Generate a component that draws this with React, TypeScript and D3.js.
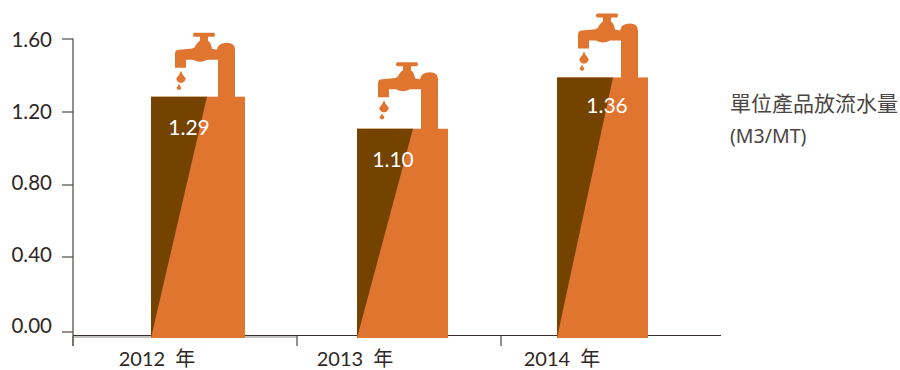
import React from "react";
import * as d3 from "d3";

const years = ["2012 年", "2013 年", "2014 年"];
const valueLabels = ["1.29", "1.10", "1.36"];
// bar heights as drawn in the picture, slightly different from the printed labels
const drawnValues = [1.285, 1.11, 1.39];
const barLefts = [151, 357, 557];
const barWidths = [94, 91, 91];
const faucetShift = [0, -2.5, 0];
const valueLabelX = [189, 393, 607];
const valueLabelY = [135, 167, 113];
const tickValues = [0, 0.4, 0.8, 1.2, 1.6];
const tickYs = [332, 257, 185, 112, 39];
const catTicks = [73, 297, 501];
const labelX = [157, 355, 562];
const seriesName = ["單位產品放流水量", "(M3/MT)"];

const ORANGE = "#e07530";
const BROWN = "#744300";
const INK = "#2f2725";
const FONT = "Lato, 'Noto Sans CJK TC', sans-serif";

const y = d3.scaleLinear().domain([0, 1.6]).range([332, 39]);
const tickY = d3.scaleLinear().domain(tickValues).range(tickYs);
const tickLabelY = d3.scaleLinear().domain([0, 1.6]).range([333, 47]);

const faucetPath = (() => {
  const p = d3.path();
  // coordinates relative to bar top-right corner
  p.moveTo(-27, 3);
  p.lineTo(-27, -37);
  p.lineTo(-38, -37);
  p.quadraticCurveTo(-45, -33, -52, -37);
  p.lineTo(-59, -37);
  p.lineTo(-59, -29);
  p.lineTo(-70, -29);
  p.lineTo(-70, -43);
  p.quadraticCurveTo(-70, -47, -66, -47);
  p.lineTo(-55, -48);
  p.quadraticCurveTo(-50, -48, -49, -52);
  p.quadraticCurveTo(-47, -55, -45, -56);
  p.lineTo(-45, -60);
  p.lineTo(-51, -60);
  p.quadraticCurveTo(-53, -62, -51, -64);
  p.lineTo(-31, -64);
  p.quadraticCurveTo(-29, -62, -31, -60);
  p.lineTo(-37, -60);
  p.lineTo(-37, -56);
  p.quadraticCurveTo(-34, -54, -33, -48);
  p.lineTo(-28, -47);
  p.quadraticCurveTo(-27, -54, -18, -54);
  p.quadraticCurveTo(-10, -54, -10, -47);
  p.lineTo(-10, 3);
  p.closePath();
  return p.toString();
})();

const dropPath = (cx: number, top: number, r: number) => {
  const p = d3.path();
  p.moveTo(cx, top);
  p.quadraticCurveTo(cx + r * 0.3, top + r * 0.9, cx + r, top + r * 1.6);
  p.arc(cx, top + r * 1.6, r, 0, Math.PI);
  p.quadraticCurveTo(cx - r * 0.3, top + r * 0.9, cx, top);
  p.closePath();
  return p.toString();
};

export default function App() {
  return (
    <svg width={900} height={370} style={{ position: "absolute", left: 0, top: 0, display: "block" }} fontFamily={FONT}>
      <line x1={73} x2={73} y1={38.5} y2={346} stroke="#6f6a66" strokeWidth={1.5} />
      <line x1={73} x2={721} y1={335.5} y2={335.5} stroke="#3a2f2c" strokeWidth={1.2} />
      <line x1={73} x2={297} y1={337} y2={337} stroke="#8a8582" strokeWidth={1} />
      {catTicks.map((x) => (
        <line key={x} x1={x} x2={x} y1={336} y2={346} stroke="#6f6a66" strokeWidth={1.5} />
      ))}
      {years.map((yr, i) => {
        const x0 = barLefts[i];
        const w = barWidths[i];
        const top = y(drawnValues[i]);
        const right = x0 + w;
        const bottom = 338;
        const s = top + faucetShift[i];
        return (
          <g key={yr}>
            <rect x={x0} y={top} width={w} height={bottom - top} fill={ORANGE} />
            <path d={`M${x0},${bottom}L${x0},${top}L${x0 + 56},${top}Z`} fill={BROWN} />
            <path d={faucetPath} transform={`translate(${right},${s})`} fill={ORANGE} />
            <path d={dropPath(right - 64, s - 26, 4.7)} fill={ORANGE} />
            <path d={dropPath(right - 66, s - 13, 2.4)} fill={ORANGE} />
            <text x={valueLabelX[i]} y={valueLabelY[i]} textAnchor="middle" fill="#fff" fontSize={21}>{valueLabels[i]}</text>
            <text x={labelX[i]} y={366} textAnchor="middle" fill={INK} fontSize={20} wordSpacing={5}>{yr}</text>
          </g>
        );
      })}
      {tickValues.map((t) => (
        <g key={t}>
          <line x1={62} x2={73} y1={tickY(t)} y2={tickY(t)} stroke="#4f4a47" strokeWidth={1.2} />
          <text x={52} y={tickLabelY(t)} textAnchor="end" fill={INK} fontSize={20.5}>{t.toFixed(2)}</text>
        </g>
      ))}
      <text x={730} y={111} fill="#4a4543" fontSize={21}>{seriesName[0]}</text>
      <text x={730} y={143} fill="#4a4543" fontSize={19.5} fontFamily="'Noto Sans', sans-serif">{seriesName[1]}</text>
    </svg>
  );
}
